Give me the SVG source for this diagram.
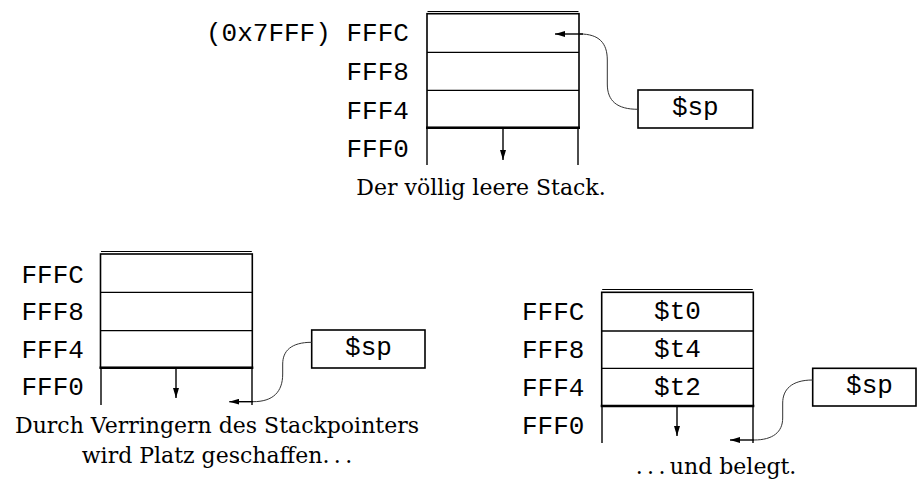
<svg xmlns="http://www.w3.org/2000/svg" width="918" height="482" viewBox="0 0 918 482">
<defs>
<marker id="ah" viewBox="0 0 10 6" refX="10" refY="3" markerWidth="10" markerHeight="6" markerUnits="userSpaceOnUse" orient="auto"><path d="M0,0 L10,3 L0,6 z" fill="#000"/></marker>
</defs>
<style>
.mono{font-family:"Liberation Mono","Courier New",monospace;font-size:26px;fill:#000}
.mid{text-anchor:middle}
.serif{font-family:"DejaVu Serif","Liberation Serif",serif;font-size:22px;fill:#000;text-anchor:middle}
.frame{fill:none;stroke:#000;stroke-width:1.6}
.sep{stroke:#000;stroke-width:1.3}
.base{stroke:#000;stroke-width:2.4}
.thin{stroke:#000;stroke-width:1}
.cont{stroke:#000;stroke-width:1.4}
.arr{fill:none;stroke:#000;stroke-width:1.4;marker-end:url(#ah)}
.curve{fill:none;stroke:#333;stroke-width:1}
</style>
<rect width="918" height="482" fill="#fff"/>

<g id="stack-top">
<line class="thin" x1="427.5" y1="11.5" x2="578.5" y2="11.5"/>
<rect class="frame" x="427" y="13.7" width="152" height="114"/>
<line class="sep" x1="427" y1="52.3" x2="579" y2="52.3"/>
<line class="sep" x1="427" y1="90.3" x2="579" y2="90.3"/>
<line class="base" x1="426" y1="127.7" x2="580" y2="127.7"/>
<line class="cont" x1="427" y1="128" x2="427" y2="165"/>
<line class="cont" x1="578" y1="128" x2="578" y2="165"/>
<text class="mono" x="206" y="41">(0x7FFF)</text>
<text class="mono" x="346.5" y="41">FFFC</text>
<text class="mono" x="346.5" y="80">FFF8</text>
<text class="mono" x="346.5" y="119">FFF4</text>
<text class="mono" x="346.5" y="157">FFF0</text>
</g>
<g id="sp-top">
<rect class="frame" x="638" y="90" width="114.7" height="38"/>
<text class="mono mid" x="695.3" y="114.5">$sp</text>
</g>
<g id="caption-top">
<text class="serif" x="481" y="195">Der völlig leere Stack.</text>
</g>

<g id="stack-left">
<line class="thin" x1="101" y1="251.5" x2="251.8" y2="251.5"/>
<rect class="frame" x="100.5" y="254" width="151.8" height="113.7"/>
<line class="sep" x1="100.5" y1="292.3" x2="252.3" y2="292.3"/>
<line class="sep" x1="100.5" y1="330.7" x2="252.3" y2="330.7"/>
<line class="base" x1="99.5" y1="367.7" x2="253.3" y2="367.7"/>
<line class="cont" x1="101" y1="368" x2="101" y2="405"/>
<line class="cont" x1="252" y1="368" x2="252" y2="405"/>
<text class="mono" x="21.5" y="282.7">FFFC</text>
<text class="mono" x="21.5" y="320">FFF8</text>
<text class="mono" x="21.5" y="358.3">FFF4</text>
<text class="mono" x="21.5" y="395">FFF0</text>
</g>
<g id="sp-left">
<rect class="frame" x="311.7" y="330" width="113.3" height="38"/>
<text class="mono mid" x="368.5" y="354.5">$sp</text>
</g>
<g id="caption-left">
<text class="serif" x="217" y="433">Durch Verringern des Stackpointers</text>
<text class="serif" x="217" y="463">wird Platz geschaffen.&#8201;.&#8201;.</text>
</g>

<g id="stack-right">
<line class="thin" x1="602.2" y1="289.5" x2="752.8" y2="289.5"/>
<rect class="frame" x="601.7" y="292.3" width="151.6" height="113.7"/>
<line class="sep" x1="601.7" y1="331" x2="753.3" y2="331"/>
<line class="sep" x1="601.7" y1="368.3" x2="753.3" y2="368.3"/>
<line class="base" x1="600.7" y1="406" x2="754.3" y2="406"/>
<line class="cont" x1="602" y1="406.3" x2="602" y2="443"/>
<line class="cont" x1="753" y1="406.3" x2="753" y2="443"/>
<text class="mono" x="522" y="319.5">FFFC</text>
<text class="mono" x="522" y="357.5">FFF8</text>
<text class="mono" x="522" y="395.5">FFF4</text>
<text class="mono" x="522" y="433.5">FFF0</text>
<text class="mono mid" x="677.5" y="319">$t0</text>
<text class="mono mid" x="677.5" y="356.7">$t4</text>
<text class="mono mid" x="677.5" y="395">$t2</text>
</g>
<g id="sp-right">
<rect class="frame" x="812.7" y="368.3" width="103.3" height="37.7"/>
<text class="mono mid" x="869.5" y="392.5">$sp</text>
</g>
<g id="caption-right">
<text class="serif" x="716" y="474">.&#8201;.&#8201;.&#8201;und belegt.</text>
</g>

<g id="connectors">
<path class="arr" d="M503,128.7 L503,160"/>
<path class="curve" d="M638,109.3 C617,109.3 607.3,101 607.3,84 L607.3,60 C607.3,43 599,34 580,34"/>
<path class="arr" d="M583,34 L555,34"/>
<path class="arr" d="M176,368.7 L176,398"/>
<path class="curve" d="M311.7,342.3 C291,342.3 282.7,351 282.7,364 L282.7,374 C282.7,392 273,401.7 253,401.7"/>
<path class="arr" d="M253,401.7 L229.3,401.7"/>
<path class="arr" d="M677,407 L677,436"/>
<path class="curve" d="M812.7,380 C791,380 782.7,390 782.7,403 L782.7,418 C782.7,432 773,440 754,440"/>
<path class="arr" d="M754,440 L730,440"/>
</g>
</svg>
